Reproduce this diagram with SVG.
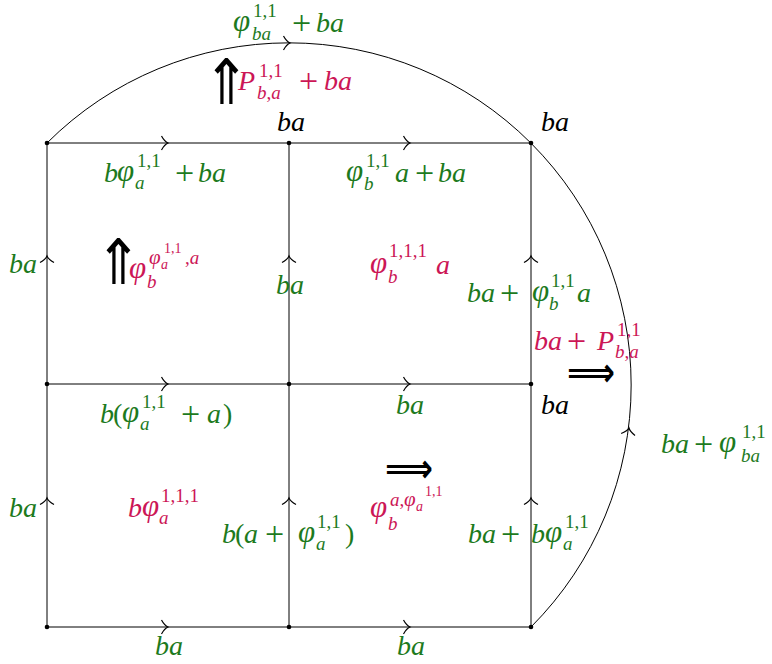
<svg xmlns="http://www.w3.org/2000/svg" xmlns:xlink="http://www.w3.org/1999/xlink" width="772" height="664" viewBox="0 0 772 664">
<style>
text{font-family:"Liberation Serif","Times New Roman",serif;font-size:28px}
.i{font-style:italic}
.f{font-style:italic;font-size:31px}
.f.s1{font-size:21px}
.s1{font-size:19px}
.s2{font-size:14px}
.pl{font-size:34px}
.g{fill:#1d7a1d}
.p{fill:#cc1656}
.k{fill:#000}
.sym{font-family:"DejaVu Sans",sans-serif;fill:#000;font-size:40px}
.up{font-family:"DejaVu Sans",sans-serif;fill:#000;font-size:56px}
.ln{stroke:#000;stroke-width:1;fill:none}
</style>
<defs>
<path id="ah" d="M-6.5,-7 Q-3.5,-1.5 0,0 Q-3.5,1.5 -6.5,7" fill="none" stroke="#000" stroke-width="1.2"/>
<circle id="dot" r="2.3" fill="#000"/>
</defs>
<rect width="772" height="664" fill="#fff"/>
<g id="connectors">
<path class="ln" d="M47,143 A342,342 0 0 1 531,627"/>
<line class="ln" x1="47" y1="143" x2="531" y2="143"/>
<line class="ln" x1="47" y1="384" x2="531" y2="384"/>
<line class="ln" x1="47" y1="627" x2="531" y2="627"/>
<line class="ln" x1="47" y1="143" x2="47" y2="627"/>
<line class="ln" x1="289" y1="143" x2="289" y2="627"/>
<line class="ln" x1="531" y1="143" x2="531" y2="627"/>
<use xlink:href="#ah" transform="translate(168,143)"/>
<use xlink:href="#ah" transform="translate(410,143)"/>
<use xlink:href="#ah" transform="translate(168,384)"/>
<use xlink:href="#ah" transform="translate(410,384)"/>
<use xlink:href="#ah" transform="translate(168,627)"/>
<use xlink:href="#ah" transform="translate(410,627)"/>
<use xlink:href="#ah" transform="translate(47,256) rotate(-90)"/>
<use xlink:href="#ah" transform="translate(289,256) rotate(-90)"/>
<use xlink:href="#ah" transform="translate(531,256) rotate(-90)"/>
<use xlink:href="#ah" transform="translate(47,498) rotate(-90)"/>
<use xlink:href="#ah" transform="translate(289,498) rotate(-90)"/>
<use xlink:href="#ah" transform="translate(531,498) rotate(-90)"/>
<use xlink:href="#ah" transform="translate(290,43)"/>
<use xlink:href="#ah" transform="translate(629,428) rotate(-82)"/>
</g>
<g id="n00"><use xlink:href="#dot" x="47" y="143"/></g>
<g id="n10"><use xlink:href="#dot" x="289" y="143"/><text class="i k" x="277" y="131">ba</text></g>
<g id="n20"><use xlink:href="#dot" x="531" y="143"/><text class="i k" x="541" y="131">ba</text></g>
<g id="n01"><use xlink:href="#dot" x="47" y="384"/></g>
<g id="n11"><use xlink:href="#dot" x="289" y="384"/></g>
<g id="n21"><use xlink:href="#dot" x="531" y="384"/><text class="i k" x="541" y="414">ba</text></g>
<g id="n02"><use xlink:href="#dot" x="47" y="627"/></g>
<g id="n12"><use xlink:href="#dot" x="289" y="627"/></g>
<g id="n22"><use xlink:href="#dot" x="531" y="627"/></g>
<g id="labels">
<!-- top arc -->
<text class="f g" x="233" y="31">φ</text><text class="g s1" x="253" y="17">1,1</text><text class="i g s1" x="252" y="40">ba</text><text class="g pl" x="292" y="34">+</text><text class="i g" x="316" y="32">ba</text>
<text class="up" transform="translate(203,104) scale(1,1.12)">⇑</text>
<text class="i p" x="238" y="90">P</text><text class="p s1" x="259" y="77">1,1</text><text class="i p s1" x="257" y="99">b<tspan font-style="normal">,</tspan>a</text><text class="p pl" x="299" y="92">+</text><text class="i p" x="324" y="90">ba</text>
<!-- top row edges -->
<text class="i g" x="104" y="182">b</text><text class="f g" x="117" y="181">φ</text><text class="g s1" x="137" y="167">1,1</text><text class="i g s1" x="135" y="189">a</text><text class="g pl" x="175" y="184">+</text><text class="i g" x="198" y="182">ba</text>
<text class="f g" x="346" y="181">φ</text><text class="g s1" x="366" y="167">1,1</text><text class="i g s1" x="364" y="190">b</text><text class="i g" x="395" y="182">a</text><text class="g pl" x="415" y="184">+</text><text class="i g" x="438" y="182">ba</text>
<!-- top cells -->
<text class="i g" x="9" y="273">ba</text>
<text class="up" transform="translate(95,284) scale(1,1.12)">⇑</text>
<text class="f p" x="129" y="278">φ</text><text class="i p s1" x="147" y="288">b</text><text class="f p s1" x="149" y="264">φ</text><text class="i p s2" x="161" y="269">a</text><text class="p s2" x="164" y="253">1,1</text><text class="i p s1" x="185" y="264"><tspan font-style="normal">,</tspan>a</text>
<text class="f p" x="370" y="273">φ</text><text class="p s1" x="389" y="257">1,1,1</text><text class="i p s1" x="388" y="283">b</text><text class="i p" x="436" y="274">a</text>
<text class="i g" x="276" y="294">ba</text>
<text class="i g" x="467" y="302">ba</text><text class="g pl" x="500" y="304">+</text><text class="f g" x="532" y="301">φ</text><text class="g s1" x="551" y="287">1,1</text><text class="i g s1" x="549" y="310">b</text><text class="i g" x="577" y="302">a</text>
<text class="i p" x="534" y="350">ba</text><text class="p pl" x="567" y="352">+</text><text class="i p" x="597" y="350">P</text><text class="p s1" x="617" y="336">1,1</text><text class="i p s1" x="615" y="358">b<tspan font-style="normal">,</tspan>a</text>
<text class="sym" x="567" y="386" font-weight="bold" textLength="48" lengthAdjust="spacingAndGlyphs">⟹</text>
<text class="i g" x="661" y="453">ba</text><text class="g pl" x="694" y="455">+</text><text class="f g" x="719" y="452">φ</text><text class="g s1" x="742" y="438">1,1</text><text class="i g s1" x="741" y="462">ba</text>
<!-- middle row edges -->
<text class="i g" x="100" y="423">b</text><text class="g" x="113" y="423">(</text><text class="f g" x="122" y="422">φ</text><text class="g s1" x="142" y="408">1,1</text><text class="i g s1" x="140" y="430">a</text><text class="g pl" x="181" y="425">+</text><text class="i g" x="207" y="423">a</text><text class="g" x="223" y="423">)</text>
<text class="i g" x="396" y="414">ba</text>
<!-- bottom cells -->
<text class="sym" x="385" y="482" font-weight="bold" textLength="48" lengthAdjust="spacingAndGlyphs">⟹</text>
<text class="i g" x="9" y="517">ba</text>
<text class="i p" x="128" y="517">b</text><text class="f p" x="142" y="516">φ</text><text class="p s1" x="161" y="502">1,1,1</text><text class="i p s1" x="159" y="524">a</text>
<text class="f p" x="370" y="517">φ</text><text class="i p s1" x="388" y="530">b</text><text class="i p s1" x="390" y="506">a<tspan font-style="normal">,</tspan></text><text class="f p s1" x="404" y="506">φ</text><text class="i p s2" x="416" y="511">a</text><text class="p s2" x="425" y="496">1,1</text>
<text class="i g" x="222" y="543">b</text><text class="g" x="235" y="543">(</text><text class="i g" x="244" y="543">a</text><text class="g pl" x="265" y="545">+</text><text class="f g" x="298" y="542">φ</text><text class="g s1" x="317" y="528">1,1</text><text class="i g s1" x="316" y="550">a</text><text class="g" x="345" y="543">)</text>
<text class="i g" x="468" y="543">ba</text><text class="g pl" x="501" y="545">+</text><text class="i g" x="531" y="543">b</text><text class="f g" x="545" y="542">φ</text><text class="g s1" x="565" y="528">1,1</text><text class="i g s1" x="563" y="550">a</text>
<text class="i g" x="155" y="655">ba</text>
<text class="i g" x="397" y="655">ba</text>
</g>
</svg>
